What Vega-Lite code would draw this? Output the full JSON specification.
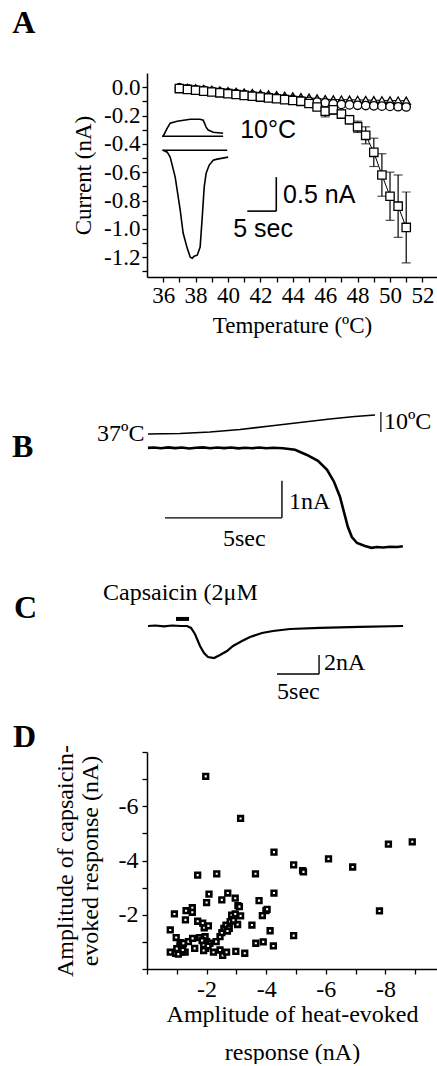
{
"$schema":"https://vega.github.io/schema/vega-lite/v6.json",
"autosize":{"type":"pad"},
"padding":{"left":12,"top":7,"right":0,"bottom":0},
"background":"white",
"bounds":"flush",
"spacing":0,
"datasets":{
"aseries":[
{"T":37,"I":0,"s":"tri"},{"T":37.5,"I":-0.005,"s":"tri"},{"T":38,"I":-0.009,"s":"tri"},{"T":38.5,"I":-0.014,"s":"tri"},{"T":39,"I":-0.019,"s":"tri"},{"T":39.5,"I":-0.024,"s":"tri"},{"T":40,"I":-0.028,"s":"tri"},{"T":40.5,"I":-0.033,"s":"tri"},{"T":41,"I":-0.038,"s":"tri"},{"T":41.5,"I":-0.042,"s":"tri"},{"T":42,"I":-0.047,"s":"tri"},{"T":42.5,"I":-0.052,"s":"tri"},{"T":43,"I":-0.057,"s":"tri"},{"T":43.5,"I":-0.061,"s":"tri"},{"T":44,"I":-0.066,"s":"tri"},{"T":44.5,"I":-0.071,"s":"tri"},{"T":45,"I":-0.075,"s":"tri"},{"T":45.5,"I":-0.08,"s":"tri"},{"T":46,"I":-0.085,"s":"tri"},{"T":46.5,"I":-0.087,"s":"tri"},{"T":47,"I":-0.088,"s":"tri"},{"T":47.5,"I":-0.089,"s":"tri"},{"T":48,"I":-0.09,"s":"tri"},{"T":48.5,"I":-0.091,"s":"tri"},{"T":49,"I":-0.092,"s":"tri"},{"T":49.5,"I":-0.093,"s":"tri"},{"T":50,"I":-0.094,"s":"tri"},{"T":50.5,"I":-0.095,"s":"tri"},{"T":51,"I":-0.096,"s":"tri"},
{"T":37,"I":-0.005,"s":"circ"},{"T":37.5,"I":-0.011,"s":"circ"},{"T":38,"I":-0.017,"s":"circ"},{"T":38.5,"I":-0.023,"s":"circ"},{"T":39,"I":-0.029,"s":"circ"},{"T":39.5,"I":-0.035,"s":"circ"},{"T":40,"I":-0.04,"s":"circ"},{"T":40.5,"I":-0.046,"s":"circ"},{"T":41,"I":-0.052,"s":"circ"},{"T":41.5,"I":-0.058,"s":"circ"},{"T":42,"I":-0.064,"s":"circ"},{"T":42.5,"I":-0.07,"s":"circ"},{"T":43,"I":-0.076,"s":"circ"},{"T":43.5,"I":-0.082,"s":"circ"},{"T":44,"I":-0.088,"s":"circ"},{"T":44.5,"I":-0.094,"s":"circ"},{"T":45,"I":-0.1,"s":"circ"},{"T":45.5,"I":-0.105,"s":"circ"},{"T":46,"I":-0.11,"s":"circ"},{"T":46.5,"I":-0.118,"s":"circ"},{"T":47,"I":-0.122,"s":"circ"},{"T":47.5,"I":-0.125,"s":"circ"},{"T":48,"I":-0.128,"s":"circ"},{"T":48.5,"I":-0.13,"s":"circ"},{"T":49,"I":-0.132,"s":"circ"},{"T":49.5,"I":-0.134,"s":"circ"},{"T":50,"I":-0.136,"s":"circ"},{"T":50.5,"I":-0.138,"s":"circ"},{"T":51,"I":-0.14,"s":"circ"},
{"T":37,"I":-0.01,"s":"sq"},{"T":37.5,"I":-0.016,"s":"sq"},{"T":38,"I":-0.022,"s":"sq"},{"T":38.5,"I":-0.028,"s":"sq"},{"T":39,"I":-0.034,"s":"sq"},{"T":39.5,"I":-0.04,"s":"sq"},{"T":40,"I":-0.046,"s":"sq"},{"T":40.5,"I":-0.052,"s":"sq"},{"T":41,"I":-0.058,"s":"sq"},{"T":41.5,"I":-0.064,"s":"sq"},{"T":42,"I":-0.07,"s":"sq"},{"T":42.5,"I":-0.076,"s":"sq"},{"T":43,"I":-0.082,"s":"sq"},{"T":43.5,"I":-0.088,"s":"sq"},{"T":44,"I":-0.094,"s":"sq"},{"T":44.5,"I":-0.1,"s":"sq"},{"T":45,"I":-0.115,"s":"sq"},{"T":45.5,"I":-0.14,"s":"sq"},{"T":46,"I":-0.17,"s":"sq"},{"T":46.5,"I":-0.16,"s":"sq"},{"T":47,"I":-0.19,"s":"sq"},{"T":47.5,"I":-0.23,"s":"sq"},{"T":48,"I":-0.28,"s":"sq"},{"T":48.5,"I":-0.34,"s":"sq"},{"T":49,"I":-0.46,"s":"sq"},{"T":49.5,"I":-0.62,"s":"sq"},{"T":50,"I":-0.77,"s":"sq"},{"T":50.5,"I":-0.84,"s":"sq"},{"T":51,"I":-0.99,"s":"sq"}
],
"aerr":[
{"T":46,"lo":-0.21,"hi":-0.13},{"T":46.5,"lo":-0.19,"hi":-0.13},{"T":47,"lo":-0.22,"hi":-0.16},{"T":47.5,"lo":-0.26,"hi":-0.2},{"T":48,"lo":-0.32,"hi":-0.24},{"T":48.5,"lo":-0.4,"hi":-0.28},{"T":49,"lo":-0.56,"hi":-0.36},{"T":49.5,"lo":-0.77,"hi":-0.47},{"T":50,"lo":-0.94,"hi":-0.6},{"T":50.5,"lo":-1.06,"hi":-0.62},{"T":51,"lo":-1.24,"hi":-0.74}
],
"ainset":[
{"k":"up","T":35.94,"I":-0.346},{"k":"up","T":36.0,"I":-0.346},{"k":"up","T":36.25,"I":-0.289},{"k":"up","T":36.43,"I":-0.254},{"k":"up","T":36.86,"I":-0.24},{"k":"up","T":37.67,"I":-0.226},{"k":"up","T":38.28,"I":-0.226},{"k":"up","T":38.47,"I":-0.233},{"k":"up","T":38.65,"I":-0.282},{"k":"up","T":38.78,"I":-0.303},{"k":"up","T":39.09,"I":-0.318},{"k":"up","T":39.7,"I":-0.325},
{"k":"base","T":35.94,"I":-0.346},{"k":"base","T":39.7,"I":-0.346},
{"k":"ref","T":35.94,"I":-0.445},{"k":"ref","T":39.95,"I":-0.445},
{"k":"cur","T":36.0,"I":-0.445},{"k":"cur","T":36.25,"I":-0.459},{"k":"cur","T":36.43,"I":-0.494},{"k":"cur","T":36.74,"I":-0.635},{"k":"cur","T":37.05,"I":-0.868},{"k":"cur","T":37.23,"I":-1.03},{"k":"cur","T":37.48,"I":-1.136},{"k":"cur","T":37.67,"I":-1.2},{"k":"cur","T":37.79,"I":-1.207},{"k":"cur","T":37.91,"I":-1.193},{"k":"cur","T":38.1,"I":-1.186},{"k":"cur","T":38.28,"I":-1.129},{"k":"cur","T":38.41,"I":-0.917},{"k":"cur","T":38.53,"I":-0.706},{"k":"cur","T":38.65,"I":-0.607},{"k":"cur","T":38.84,"I":-0.55},{"k":"cur","T":39.09,"I":-0.515},{"k":"cur","T":39.33,"I":-0.508},{"k":"cur","T":40.01,"I":-0.494}
],
"abar":[{"T":42.98,"T2":42.98,"I":-0.635,"I2":-0.875},{"T":41.19,"T2":42.98,"I":-0.875,"I2":-0.875}],
"atext":[{"T":40.75,"I":-0.303,"label":"10°C"},{"T":43.4,"I":-0.762,"label":"0.5 nA"},{"T":40.32,"I":-1.002,"label":"5 sec"}],
"bcur":[
{"t":0.04,"I":0},{"t":0.3,"I":0.01},{"t":0.6,"I":-0.01},{"t":0.9,"I":0.015},{"t":1.2,"I":-0.005},{"t":1.5,"I":0.01},{"t":1.8,"I":-0.015},{"t":2.1,"I":0.005},{"t":2.4,"I":0.015},{"t":2.7,"I":-0.01},{"t":3.0,"I":0.01},{"t":3.3,"I":-0.005},{"t":3.6,"I":0.012},{"t":3.9,"I":-0.012},{"t":4.2,"I":0.006},{"t":4.5,"I":-0.008},{"t":4.8,"I":0.01},{"t":5.1,"I":-0.01},{"t":5.4,"I":0.004},{"t":5.81,"I":-0.01},{"t":6.33,"I":-0.05},{"t":6.84,"I":-0.19},{"t":7.31,"I":-0.35},{"t":7.7,"I":-0.59},{"t":8.0,"I":-0.92},{"t":8.25,"I":-1.32},{"t":8.42,"I":-1.73},{"t":8.59,"I":-2.14},{"t":8.76,"I":-2.41},{"t":8.98,"I":-2.57},{"t":9.32,"I":-2.65},{"t":9.6,"I":-2.7},{"t":9.83,"I":-2.68},{"t":10.1,"I":-2.69},{"t":10.39,"I":-2.67},{"t":10.7,"I":-2.68},{"t":10.94,"I":-2.66}
],
"btemp":[{"t":0.04,"C":37},{"t":1.41,"C":37.25},{"t":2.69,"C":38},{"t":3.98,"C":39.25},{"t":5.26,"C":41},{"t":6.54,"C":42.75},{"t":7.82,"C":44.5},{"t":8.89,"C":45.75},{"t":9.75,"C":46.5}],
"bbar":[{"t":0.77,"t2":5.77,"I":-1.89,"I2":-1.89},{"t":5.77,"t2":5.77,"I":-1.89,"I2":-0.89}],
"btbar":[{"t":10.0,"t2":10.0,"C":38,"C2":48}],
"btext":[{"t":6.07,"I":-1.46,"label":"1nA"},{"t":3.25,"I":-2.46,"label":"5sec"}],
"bttext":[{"t":-2.14,"C":37,"label":"37ºC"},{"t":10.13,"C":43,"label":"10ºC"}],
"ccur":[
{"t":0.12,"I":0},{"t":1.0,"I":0.05},{"t":2.0,"I":-0.05},{"t":3.0,"I":0.05},{"t":4.0,"I":0},{"t":4.76,"I":0},{"t":5.24,"I":-0.21},{"t":5.71,"I":-0.84},{"t":6.31,"I":-2.1},{"t":6.79,"I":-2.84},{"t":7.26,"I":-3.26},{"t":7.98,"I":-3.37},{"t":8.69,"I":-3.05},{"t":9.52,"I":-2.63},{"t":10.24,"I":-2.1},{"t":11.31,"I":-1.58},{"t":12.26,"I":-1.16},{"t":13.69,"I":-0.74},{"t":15.0,"I":-0.53},{"t":17.02,"I":-0.32},{"t":20.6,"I":-0.21},{"t":25.36,"I":-0.1},{"t":30.48,"I":0}
],
"cbar":[{"t":15.48,"t2":20.48,"I":-5.05,"I2":-5.05},{"t":20.48,"t2":20.48,"I":-5.05,"I2":-3.05}],
"cstim":[{"t":3.45,"t2":5.0,"I":0.74,"I2":0.74}],
"ctext":[{"t":-5.24,"I":3.47,"label":"Capsaicin (2μM"},{"t":21.07,"I":-3.89,"label":"2nA"},{"t":15.48,"I":-6.95,"label":"5sec"}],
"dpts":[
{"heat":-1.97,"caps":-7.1},{"heat":-3.14,"caps":-5.55},{"heat":-4.26,"caps":-4.31},{"heat":-8.9,"caps":-4.69},{"heat":-8.1,"caps":-4.6},{"heat":-6.09,"caps":-4.06},{"heat":-6.9,"caps":-3.76},{"heat":-4.92,"caps":-3.84},{"heat":-5.22,"caps":-3.63},{"heat":-5.25,"caps":-3.58},{"heat":-1.7,"caps":-3.46},{"heat":-2.34,"caps":-3.51},{"heat":-3.64,"caps":-3.51},{"heat":-4.26,"caps":-2.8},{"heat":-7.8,"caps":-2.14},{"heat":-2.08,"caps":-2.76},{"heat":-2.0,"caps":-2.45},{"heat":-2.71,"caps":-2.8},{"heat":-2.51,"caps":-2.55},{"heat":-2.96,"caps":-2.61},{"heat":-3.05,"caps":-2.34},{"heat":-3.1,"caps":-2.3},{"heat":-3.76,"caps":-2.52},{"heat":-3.99,"caps":-2.15},{"heat":-4.03,"caps":-2.2},{"heat":-3.87,"caps":-1.97},{"heat":-0.92,"caps":-2.03},{"heat":-1.31,"caps":-2.15},{"heat":-1.52,"caps":-2.26},{"heat":-1.52,"caps":-2.09},{"heat":-1.29,"caps":-1.81},{"heat":-1.7,"caps":-1.76},{"heat":-1.87,"caps":-1.69},{"heat":-1.92,"caps":-1.52},{"heat":-2.06,"caps":-1.59},{"heat":-0.78,"caps":-1.44},{"heat":-0.98,"caps":-1.16},{"heat":-1.11,"caps":-0.97},{"heat":-1.11,"caps":-0.82},{"heat":-0.78,"caps":-0.62},{"heat":-0.96,"caps":-0.58},{"heat":-1.14,"caps":-0.62},{"heat":-1.28,"caps":-0.62},{"heat":-1.39,"caps":-1.01},{"heat":-1.53,"caps":-1.13},{"heat":-1.6,"caps":-0.76},{"heat":-1.76,"caps":-1.16},{"heat":-1.95,"caps":-1.19},{"heat":-2.0,"caps":-1.01},{"heat":-1.97,"caps":-0.76},{"heat":-2.11,"caps":-0.95},{"heat":-2.23,"caps":-0.62},{"heat":-2.32,"caps":-1.01},{"heat":-2.45,"caps":-1.19},{"heat":-2.51,"caps":-1.34},{"heat":-2.58,"caps":-1.5},{"heat":-2.65,"caps":-1.62},{"heat":-2.79,"caps":-1.75},{"heat":-2.76,"caps":-1.5},{"heat":-2.84,"caps":-1.99},{"heat":-2.96,"caps":-2.03},{"heat":-3.14,"caps":-1.96},{"heat":-3.04,"caps":-1.64},{"heat":-2.45,"caps":-0.7},{"heat":-2.54,"caps":-0.5},{"heat":-2.67,"caps":-0.62},{"heat":-2.98,"caps":-0.65},{"heat":-3.28,"caps":-0.58},{"heat":-3.52,"caps":-1.62},{"heat":-3.65,"caps":-0.95},{"heat":-3.9,"caps":-1.0},{"heat":-4.13,"caps":-1.41},{"heat":-4.24,"caps":-0.85},{"heat":-4.92,"caps":-1.23},{"heat":-1.0,"caps":-0.75},{"heat":-1.05,"caps":-0.55},{"heat":-1.2,"caps":-0.7},{"heat":-1.15,"caps":-0.9},{"heat":-1.9,"caps":-0.9},{"heat":-1.85,"caps":-1.05},{"heat":-2.05,"caps":-0.85},{"heat":-1.9,"caps":-0.68},{"heat":-2.7,"caps":-1.4},{"heat":-2.9,"caps":-1.8},{"heat":-1.22,"caps":-0.95}
]
},
"vconcat":[
{
"width":290,"height":204,
"layer":[
{"data":{"name":"aseries"},"mark":{"type":"line","color":"black","strokeWidth":1},
"encoding":{
"x":{"field":"T","type":"quantitative","scale":{"domain":[35,52.9],"nice":false,"zero":false},
"axis":{"values":[36,37,38,39,40,41,42,43,44,45,46,47,48,49,50,51,52],"tickCount":100,"labelExpr":"datum.value % 2 == 0 ? format(datum.value, 'd') : ''","title":"Temperature (ºC)","labelFontSize":23,"titleFontSize":23,"tickSize":5,"labelPadding":2,"titlePadding":7}},
"y":{"field":"I","type":"quantitative","scale":{"domain":[-1.34,0.1],"nice":false,"zero":false},
"axis":{"values":[0,-0.1,-0.2,-0.3,-0.4,-0.5,-0.6,-0.7,-0.8,-0.9,-1.0,-1.1,-1.2,-1.3],"tickCount":100,"labelExpr":"round(datum.value*10) % 2 == 0 ? (datum.value == 0 ? '0.0' : '-' + format(-datum.value, '.1f')) : ''","title":"Current (nA)","labelFontSize":23,"titleFontSize":23,"tickSize":5,"labelPadding":2,"titlePadding":8}},
"detail":{"field":"s"}}},
{"data":{"name":"aerr"},"mark":{"type":"rule","color":"black","strokeWidth":1.2},
"encoding":{"x":{"field":"T","type":"quantitative"},
"y":{"field":"lo","type":"quantitative"},"y2":{"field":"hi"}}},
{"data":{"name":"aerr"},"mark":{"type":"tick","orient":"horizontal","color":"black","size":9,"thickness":1.2},
"encoding":{"x":{"field":"T","type":"quantitative"},
"y":{"field":"lo","type":"quantitative"}}},
{"data":{"name":"aerr"},"mark":{"type":"tick","orient":"horizontal","color":"black","size":9,"thickness":1.2},
"encoding":{"x":{"field":"T","type":"quantitative"},
"y":{"field":"hi","type":"quantitative"}}},
{"data":{"name":"aseries"},"mark":{"type":"point","filled":true,"fill":"white","stroke":"black","strokeWidth":1.3,"size":70,"opacity":1},
"encoding":{"x":{"field":"T","type":"quantitative"},
"y":{"field":"I","type":"quantitative"},
"shape":{"field":"s","type":"nominal","scale":{"domain":["tri","circ","sq"],"range":["triangle-up","circle","square"]},"legend":null}}},
{"data":{"name":"ainset"},"mark":{"type":"line","color":"black","strokeWidth":1.6},
"encoding":{"x":{"field":"T","type":"quantitative"},
"y":{"field":"I","type":"quantitative"},"detail":{"field":"k"}}},
{"data":{"name":"abar"},"mark":{"type":"rule","color":"black","strokeWidth":1.6},
"encoding":{"x":{"field":"T","type":"quantitative"},"x2":{"field":"T2"},
"y":{"field":"I","type":"quantitative"},"y2":{"field":"I2"}}},
{"data":{"name":"atext"},"mark":{"type":"text","font":"Liberation Sans","fontSize":25,"align":"left","baseline":"middle","color":"black"},
"encoding":{"x":{"field":"T","type":"quantitative"},
"y":{"field":"I","type":"quantitative"},"text":{"field":"label"}}},
{"data":{"values":[{"T":26.68,"I":0.452,"label":"A"}]},"mark":{"type":"text","font":"Liberation Serif","fontWeight":"bold","fontSize":32,"align":"left","baseline":"middle","color":"black"},
"encoding":{"x":{"field":"T","type":"quantitative"},
"y":{"field":"I","type":"quantitative"},"text":{"field":"label"}}}
]
},
{
"width":290,"height":293,
"resolve":{"scale":{"y":"independent"}},
"layer":[
{"data":{"name":"bcur"},"mark":{"type":"line","color":"black","strokeWidth":2.6},
"encoding":{"x":{"field":"t","type":"quantitative","scale":{"domain":[0,12.4],"nice":false,"zero":false},"axis":null},
"y":{"field":"I","type":"quantitative","scale":{"domain":[-3.3,4.62],"nice":false,"zero":false},"axis":null}}},
{"data":{"name":"bbar"},"mark":{"type":"rule","color":"black","strokeWidth":1.4},
"encoding":{"x":{"field":"t","type":"quantitative","scale":{"domain":[0,12.4],"nice":false,"zero":false},"axis":null},"x2":{"field":"t2"},
"y":{"field":"I","type":"quantitative","scale":{"domain":[-3.3,4.62],"nice":false,"zero":false},"axis":null},"y2":{"field":"I2"}}},
{"data":{"name":"btext"},"mark":{"type":"text","font":"Liberation Serif","fontSize":24,"align":"left","baseline":"middle","color":"black"},
"encoding":{"x":{"field":"t","type":"quantitative","scale":{"domain":[0,12.4],"nice":false,"zero":false},"axis":null},
"y":{"field":"I","type":"quantitative","scale":{"domain":[-3.3,4.62],"nice":false,"zero":false},"axis":null},"text":{"field":"label"}}},
{"data":{"values":[{"t":-5.77,"I":0.03,"label":"B"}]},"mark":{"type":"text","font":"Liberation Serif","fontWeight":"bold","fontSize":32,"align":"left","baseline":"middle","color":"black"},
"encoding":{"x":{"field":"t","type":"quantitative","scale":{"domain":[0,12.4],"nice":false,"zero":false},"axis":null},
"y":{"field":"I","type":"quantitative","scale":{"domain":[-3.3,4.62],"nice":false,"zero":false},"axis":null},"text":{"field":"label"}}},
{"data":{"name":"btemp"},"mark":{"type":"line","color":"black","strokeWidth":1.6},
"encoding":{"x":{"field":"t","type":"quantitative","scale":{"domain":[0,12.4],"nice":false,"zero":false},"axis":null},
"y":{"field":"C","type":"quantitative","scale":{"domain":[-31,115.5],"nice":false,"zero":false},"axis":null}}},
{"data":{"name":"btbar"},"mark":{"type":"rule","color":"black","strokeWidth":1.2},
"encoding":{"x":{"field":"t","type":"quantitative","scale":{"domain":[0,12.4],"nice":false,"zero":false},"axis":null},"x2":{"field":"t2"},
"y":{"field":"C","type":"quantitative","scale":{"domain":[-31,115.5],"nice":false,"zero":false},"axis":null},"y2":{"field":"C2"}}},
{"data":{"name":"bttext"},"mark":{"type":"text","font":"Liberation Serif","fontSize":24,"align":"left","baseline":"middle","color":"black"},
"encoding":{"x":{"field":"t","type":"quantitative","scale":{"domain":[0,12.4],"nice":false,"zero":false},"axis":null},
"y":{"field":"C","type":"quantitative","scale":{"domain":[-31,115.5],"nice":false,"zero":false},"axis":null},"text":{"field":"label"}}}
]
},
{
"width":290,"height":182,
"layer":[
{"data":{"name":"ccur"},"mark":{"type":"line","color":"black","strokeWidth":2.2},
"encoding":{"x":{"field":"t","type":"quantitative","scale":{"domain":[0,34.52],"nice":false,"zero":false},"axis":null},
"y":{"field":"I","type":"quantitative","scale":{"domain":[-13.26,5.89],"nice":false,"zero":false},"axis":null}}},
{"data":{"name":"cbar"},"mark":{"type":"rule","color":"black","strokeWidth":1.4},
"encoding":{"x":{"field":"t","type":"quantitative","scale":{"domain":[0,34.52],"nice":false,"zero":false},"axis":null},"x2":{"field":"t2"},
"y":{"field":"I","type":"quantitative","scale":{"domain":[-13.26,5.89],"nice":false,"zero":false},"axis":null},"y2":{"field":"I2"}}},
{"data":{"name":"cstim"},"mark":{"type":"rule","color":"black","strokeWidth":4},
"encoding":{"x":{"field":"t","type":"quantitative","scale":{"domain":[0,34.52],"nice":false,"zero":false},"axis":null},"x2":{"field":"t2"},
"y":{"field":"I","type":"quantitative","scale":{"domain":[-13.26,5.89],"nice":false,"zero":false},"axis":null},"y2":{"field":"I2"}}},
{"data":{"name":"ctext"},"mark":{"type":"text","font":"Liberation Serif","fontSize":24,"align":"left","baseline":"middle","color":"black"},
"encoding":{"x":{"field":"t","type":"quantitative","scale":{"domain":[0,34.52],"nice":false,"zero":false},"axis":null},
"y":{"field":"I","type":"quantitative","scale":{"domain":[-13.26,5.89],"nice":false,"zero":false},"axis":null},"text":{"field":"label"}}},
{"data":{"values":[{"t":-15.83,"I":1.89,"label":"C"}]},"mark":{"type":"text","font":"Liberation Serif","fontWeight":"bold","fontSize":32,"align":"left","baseline":"middle","color":"black"},
"encoding":{"x":{"field":"t","type":"quantitative","scale":{"domain":[0,34.52],"nice":false,"zero":false},"axis":null},
"y":{"field":"I","type":"quantitative","scale":{"domain":[-13.26,5.89],"nice":false,"zero":false},"axis":null},"text":{"field":"label"}}}
]
},
{
"width":290,"height":217,
"layer":[
{"data":{"name":"dpts"},"mark":{"type":"point","shape":"square","filled":true,"fill":"white","stroke":"black","strokeWidth":2.6,"size":22,"opacity":1},
"encoding":{
"x":{"field":"heat","type":"quantitative","scale":{"domain":[0,-9.73],"nice":false,"zero":false},
"axis":{"values":[0,-1,-2,-3,-4,-5,-6,-7,-8,-9],"tickCount":100,"labelExpr":"(datum.value % 2 == 0 && datum.value != 0) ? '-' + format(-datum.value, 'd') : ''","title":["Amplitude of heat-evoked","response (nA)"],"titleLineHeight":38,"labelFontSize":24,"titleFontSize":24,"tickSize":5,"labelPadding":3,"titlePadding":1}},
"y":{"field":"caps","type":"quantitative","scale":{"domain":[0,-8],"nice":false,"zero":false},
"axis":{"values":[0,-1,-2,-3,-4,-5,-6,-7,-8],"tickCount":100,"labelExpr":"(datum.value == -2 || datum.value == -4 || datum.value == -6) ? '-' + format(-datum.value, 'd') : ''","title":["Amplitude of capsaicin-","evoked response (nA)"],"titleLineHeight":25,"labelFontSize":24,"titleFontSize":24,"tickSize":5,"labelPadding":4,"titlePadding":16}}}},
{"data":{"values":[{"heat":4.5,"caps":-8.56,"label":"D"}]},"mark":{"type":"text","font":"Liberation Serif","fontWeight":"bold","fontSize":32,"align":"left","baseline":"middle","color":"black"},
"encoding":{"x":{"field":"heat","type":"quantitative"},
"y":{"field":"caps","type":"quantitative"},"text":{"field":"label"}}}
]
}
],
"config":{"view":{"stroke":null},"axis":{"grid":false,"domainColor":"black","tickColor":"black","labelColor":"black","titleColor":"black","labelFont":"Liberation Serif","titleFont":"Liberation Serif","titleFontWeight":"normal","labelFlush":false,"labelOverlap":false,"domainWidth":1.5,"tickWidth":1.3}}
}
